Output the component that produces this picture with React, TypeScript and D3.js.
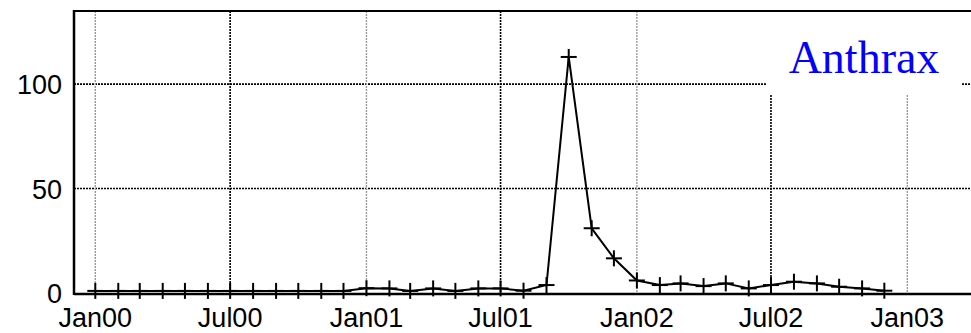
import React from 'react';
import * as d3 from 'd3';

// monthly case counts, Jan 2000 .. Dec 2002
const counts2000 = [1, 1, 1, 1, 1, 1, 1, 1, 1, 1, 1, 1];
const counts2001 = [2.3, 2.2, 1, 2.2, 1, 2.2, 2.2, 1.1, 3.8, 113, 31, 16.6];
const counts2002 = [6, 3.8, 4.6, 3.3, 4.6, 2.2, 3.8, 5.4, 4.6, 3, 2.2, 1.1];
const counts = [...counts2000, ...counts2001, ...counts2002];

const firstMonth = new Date(2000, 0, 1);
const yTicks = [0, 50, 100];
const xTickLabels = ['Jan00', 'Jul00', 'Jan01', 'Jul01', 'Jan02', 'Jul02', 'Jan03'];
const seriesName = 'Anthrax';

const W = 971, H = 333;

export default function App() {
    const left = 74, top = 11, bottom = 293, right = W;

    const xScale = d3.scaleTime()
        .domain([new Date(2000, 0, 1), new Date(2003, 0, 1)])
        .range([95.3, 907.3]);
    const yScale = d3.scaleLinear().domain([0, 135]).range([bottom, top]);

    const points = counts.map((v, i) => ({
        date: d3.timeMonth.offset(firstMonth, i),
        value: v
    }));

    const path = d3.line<{ date: Date, value: number }>()
        .x(d => xScale(d.date))
        .y(d => yScale(d.value))(points);

    // tick dates every 6 months
    const xTicks = xTickLabels.map((label, i) => ({
        label,
        date: d3.timeMonth.offset(firstMonth, i * 6),
        major: i % 2 === 0
    }));

    const font = 'Liberation Sans, Arial, sans-serif';

    return (
        <svg width={W} height={H} style={{ position: 'absolute', left: 0, top: 0, display: 'block' }}>
            <rect x={0} y={0} width={W} height={H} fill='white' />

            {/* horizontal grid */}
            {yTicks.filter(t => t > 0).map(t => (
                <line key={'hg' + t} x1={left} x2={right} y1={yScale(t)} y2={yScale(t)}
                    stroke='#000' strokeWidth={1.6} strokeDasharray='2,1' />
            ))}

            {/* vertical grid: Jan gray, Jul black */}
            {xTicks.map(t => (
                <line key={'vg' + t.label} x1={xScale(t.date)} x2={xScale(t.date)} y1={top} y2={bottom}
                    stroke={t.major ? '#999' : '#000'} strokeWidth={t.major ? 1.4 : 1.6}
                    strokeDasharray='2,1' />
            ))}

            {/* legend box */}
            <rect x={766} y={12} width={196} height={83} fill='white' />
            <text x={864} y={73} textAnchor='middle' fill='#0000ff'
                style={{ fontFamily: 'Liberation Serif, Times New Roman, serif', fontSize: 46 }}>
                {seriesName}
            </text>

            {/* frame */}
            <line x1={left} x2={right} y1={top} y2={top} stroke='#000' strokeWidth={2} />
            <line x1={left} x2={right} y1={bottom + 1} y2={bottom + 1} stroke='#000' strokeWidth={2.5} />
            <line x1={left} x2={left} y1={top - 1} y2={bottom + 2} stroke='#000' strokeWidth={2.5} />

            {/* series */}
            <path d={path || ''} fill='none' stroke='#000' strokeWidth={2} />
            {points.map((p, i) => {
                const cx = xScale(p.date), cy = yScale(p.value);
                return (
                    <g key={'m' + i} stroke='#000' strokeWidth={2}>
                        <line x1={cx - 8} x2={cx + 8} y1={cy} y2={cy} />
                        <line x1={cx} x2={cx} y1={cy - 8} y2={cy + 8} />
                    </g>
                );
            })}

            {/* y labels */}
            {yTicks.map(t => (
                <text key={'yl' + t} x={62} y={yScale(t) + 10} textAnchor='end'
                    style={{ fontFamily: font, fontSize: 27 }}>{t}</text>
            ))}

            {/* x labels */}
            {xTicks.map(t => (
                <text key={'xl' + t.label} x={xScale(t.date)} y={327} textAnchor='middle'
                    style={{ fontFamily: font, fontSize: 27 }}>{t.label}</text>
            ))}
        </svg>
    );
}
